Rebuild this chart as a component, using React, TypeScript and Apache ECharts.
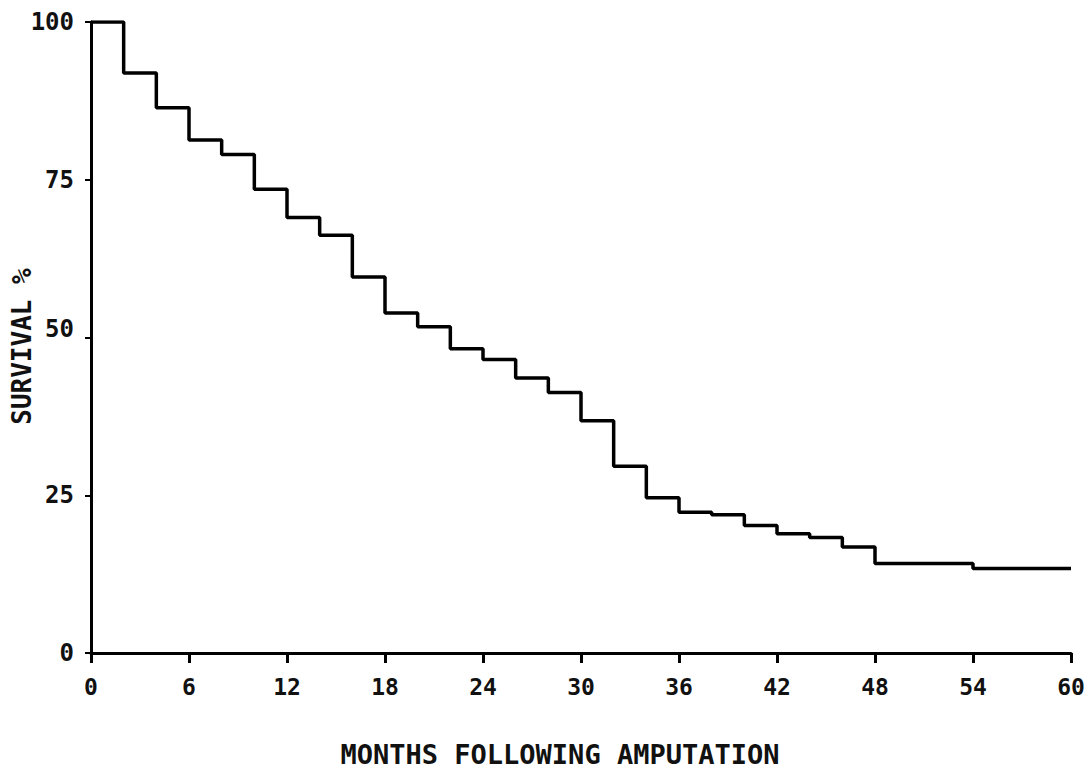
import React, { useEffect, useRef } from "react";
import * as echarts from "echarts";

// Kaplan–Meier style survival after amputation, in 2-month intervals
const intervalStart: number[] = [0, 2, 4, 6, 8, 10, 12, 14, 16, 18, 20, 22, 24, 26, 28, 30, 32, 34, 36, 38, 40, 42, 44, 46, 48, 54];
const survivalPct: number[] = [100, 91.9, 86.4, 81.3, 79.0, 73.5, 69.0, 66.2, 59.6, 53.9, 51.7, 48.2, 46.5, 43.6, 41.3, 36.8, 29.6, 24.6, 22.3, 21.9, 20.2, 18.9, 18.3, 16.8, 14.2, 13.4];
const followUpEnd = 60;

const xTicks: number[] = [0, 6, 12, 18, 24, 30, 36, 42, 48, 54, 60];
const yTicks: number[] = [0, 25, 50, 75, 100];

const xTitle = "MONTHS FOLLOWING AMPUTATION";
const yTitle = "SURVIVAL %";

const FONT = "DejaVu Sans Mono";

export default function App() {
  const ref = useRef<HTMLDivElement>(null);

  useEffect(() => {
    if (!ref.current) return;
    const chart = echarts.init(ref.current, undefined, { renderer: "svg" });

    const data: number[][] = intervalStart.map((m, i) => [m, survivalPct[i]]);
    data.push([followUpEnd, survivalPct[survivalPct.length - 1]]);

    const labelText = { fontFamily: FONT, fontSize: 24, fontWeight: "bold", color: "#111" };

    chart.setOption({
      animation: false,
      backgroundColor: "#ffffff",
      grid: {
        left: 91,
        right: 19,
        top: 22,
        bottom: 118,
        containLabel: false,
        outerBoundsMode: "none",
      },
      xAxis: {
        type: "value",
        min: xTicks[0],
        max: xTicks[xTicks.length - 1],
        interval: 6,
        name: xTitle,
        nameLocation: "middle",
        nameGap: 88,
        nameMoveOverlap: false,
        nameTextStyle: {
          fontFamily: FONT,
          fontSize: 27,
          fontWeight: "bold",
          color: "#111",
          padding: [0, 42, 0, 0],
        },
        axisLine: { lineStyle: { color: "#000", width: 3 } },
        axisTick: { show: true, length: 10, lineStyle: { color: "#000", width: 3 } },
        axisLabel: {
          fontFamily: FONT,
          fontSize: 23,
          fontWeight: "bold",
          color: "#111",
          margin: 22,
        },
        splitLine: { show: false },
      },
      yAxis: {
        type: "value",
        min: yTicks[0],
        max: yTicks[yTicks.length - 1],
        interval: 25,
        name: yTitle,
        nameLocation: "middle",
        nameGap: 56,
        nameRotate: 90,
        nameMoveOverlap: false,
        nameTextStyle: {
          fontFamily: FONT,
          fontSize: 26,
          fontWeight: "bold",
          color: "#111",
          padding: [0, 18, 0, 0],
        },
        axisLine: { show: true, lineStyle: { color: "#000", width: 3 } },
        axisTick: { show: true, length: 6, lineStyle: { color: "#000", width: 2 } },
        axisLabel: {
          ...labelText,
          margin: 17,
          // the 50 label sits slightly above its tick
          formatter: (v: number) => (v === 50 ? `{mid|${v}}` : `${v}`),
          rich: {
            mid: { ...labelText, padding: [0, 0, 18, 0] },
          },
        },
        splitLine: { show: false },
      },
      series: [
        {
          type: "line",
          step: "end",
          data,
          symbol: "none",
          lineStyle: { color: "#000", width: 3.5 },
        },
      ],
    });

    return () => chart.dispose();
  }, []);

  return (
    <div
      ref={ref}
      style={{ position: "fixed", left: 0, top: 0, width: 1090, height: 771, background: "#fff" }}
    />
  );
}
